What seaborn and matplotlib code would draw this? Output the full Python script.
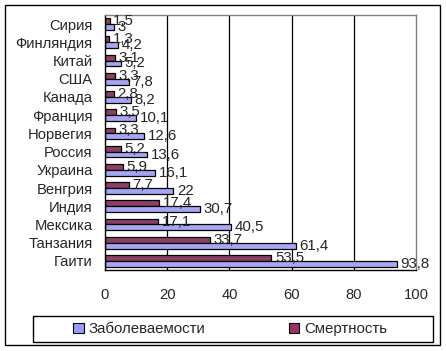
import matplotlib
matplotlib.use("Agg")
import matplotlib.pyplot as plt
from matplotlib.patches import Rectangle, Patch
import numpy as np
import pandas as pd
import seaborn as sns

countries = ["Сирия", "Финляндия", "Китай", "США", "Канада", "Франция", "Норвегия",
             "Россия", "Украина", "Венгрия", "Индия", "Мексика", "Танзания", "Гаити"]
incidence = [3, 4.2, 5.2, 7.8, 8.2, 10.1, 12.6, 13.6, 16.1, 22, 30.7, 40.5, 61.4, 93.8]
mortality = [1.5, 1.3, 3.1, 3.3, 2.8, 3.5, 3.3, 5.2, 5.9, 7.7, 17.4, 17.1, 33.7, 53.5]
series = ["Заболеваемости", "Смертность"]
colors = {"Заболеваемости": "#9999FF", "Смертность": "#993366"}
xticks = [0, 20, 40, 60, 80, 100]

df = pd.DataFrame({
    "country": countries * 2,
    "value": incidence + mortality,
    "series": [series[0]] * len(countries) + [series[1]] * len(countries),
})

sns.set_style("white")
plt.rcParams["font.family"] = ["Liberation Sans", "DejaVu Sans"]
plt.rcParams["font.size"] = 10.6

fig = plt.figure(figsize=(4.46, 3.51), dpi=100)
ax = fig.add_axes([105 / 446, 1 - 270 / 351, 311 / 446, 255 / 351])

sns.barplot(data=df, y="country", x="value", hue="series", order=countries,
            hue_order=["Смертность", "Заболеваемости"], palette=colors,
            orient="h", width=0.64, edgecolor="black", linewidth=0.9,
            legend=False, ax=ax)

for cont in ax.containers:
    vals = cont.datavalues
    ax.bar_label(cont, labels=[f"{v:g}".replace(".", ",") for v in vals],
                 padding=2.5, fontsize=10.8)

ax.set_xlim(0, 100)
ax.set_ylim(len(countries) - 0.5, -0.5)
ax.set_xticks(xticks)
ax.set_xticklabels([str(t) for t in xticks])
ax.set_yticks(np.arange(len(countries) + 1) - 0.5)
ax.set_yticklabels([])
ax.set_yticks(np.arange(len(countries)), minor=True)
ax.set_yticklabels(countries, minor=True)
ax.tick_params(axis="y", which="major", direction="out", length=5, width=0.9, color="black")
ax.tick_params(axis="y", which="minor", length=0, pad=9)
ax.tick_params(axis="x", direction="inout", length=8, width=0.9, color="black", pad=9)
ax.set_xlabel("")
ax.set_ylabel("")

for t in xticks[1:-1]:
    ax.axvline(t, color="black", linewidth=0.9, zorder=0)

ax.spines["left"].set_color("black")
ax.spines["bottom"].set_color("black")
ax.spines["top"].set_color("#808080")
ax.spines["right"].set_color("#808080")
for s in ax.spines.values():
    s.set_linewidth(1)

# legend box drawn separately, entries centred inside it
fig.patches.append(Rectangle((33 / 446, 1 - 342 / 351), 400 / 446, 26 / 351,
                             transform=fig.transFigure, fill=False,
                             edgecolor="black", linewidth=1))
handles = [Patch(facecolor=colors[s], edgecolor="black", linewidth=0.8) for s in series]
fig.legend(handles, series, loc="center", ncol=2,
           bbox_to_anchor=(230 / 446, 1 - 329 / 351),
           frameon=False, handlelength=0.7, handleheight=0.7, handletextpad=0.3,
           columnspacing=5.6, borderpad=0, fontsize=10.8)

fig.patches.append(Rectangle((5 / 446, 1 - 345 / 351), 435 / 446, 340 / 351,
                             transform=fig.transFigure, fill=False,
                             edgecolor="black", linewidth=1))

fig.savefig("out.png", dpi=100)
